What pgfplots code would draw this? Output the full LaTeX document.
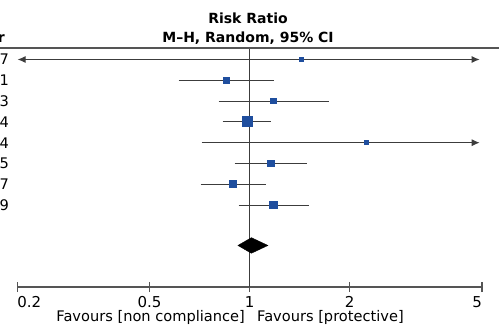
\documentclass[border=0pt]{standalone}
\usepackage{pgfplots}
\pgfplotsset{compat=1.18}
\usepackage{fontspec}
\setmainfont{DejaVu Sans}
\usetikzlibrary{arrows.meta}
\definecolor{sq}{RGB}{31,78,158}
\definecolor{ln}{RGB}{60,60,60}
\definecolor{ax}{RGB}{85,85,85}
\begin{document}
\fontsize{14.6bp}{17bp}\selectfont
\begin{tikzpicture}[x=1bp,y=1bp]
\clip (0,0) rectangle (499,-327);
\begin{axis}[
  at={(17.3bp,-287bp)}, anchor=south west,
  scale only axis, width=464.7bp, height=239bp,
  xmode=log, xmin=0.2, xmax=5,
  ymin=-11.94, ymax=-0.447,
  axis y line=none, axis x line*=bottom,
  axis line style={draw=ax, line width=1.2bp, -},
  xtick={0.2,0.5,1,2,5},
  xticklabels={\makebox[0pt][l]{0.2},0.5,1,2,\makebox[0pt][r]{5}},
  minor xtick={},
  tick align=center, major tick length=10bp,
  tick style={draw=ax, line width=1.2bp},
  xticklabel style={font=\fontsize{15bp}{17bp}\selectfont, inner sep=0pt, yshift=-4bp},
  clip=false,
  ci/.style={draw=ln, line width=1bp},
  pt/.style={only marks, mark=square*, mark options={fill=sq, draw=sq, line width=0pt}},
]
% vertical line of no effect
\addplot[draw=ln, line width=1.2bp] coordinates {(1,-0.447) (1,-11.94)};
% row 1 (2007)
\addplot[ci, {Latex[length=8bp,width=7bp]}-{Latex[length=8bp,width=7bp]}] coordinates {(0.2004,-1) (4.92,-1)};
\addplot[pt, mark size=1.9bp] coordinates {(1.434,-1)};
% row 2 (2011)
\addplot[ci] coordinates {(0.611,-2) (1.181,-2)};
\addplot[pt, mark size=3bp] coordinates {(0.853,-2)};
% row 3 (2013)
\addplot[ci] coordinates {(0.807,-3) (1.729,-3)};
\addplot[pt, mark size=2.9bp] coordinates {(1.18,-3)};
% row 4 (2014)
\addplot[ci] coordinates {(0.829,-4) (1.157,-4)};
\addplot[pt, mark size=5.1bp] coordinates {(0.986,-4)};
% row 5 (2014)
\addplot[ci, -{Latex[length=8bp,width=7bp]}] coordinates {(0.717,-5) (4.92,-5)};
\addplot[pt, mark size=1.8bp] coordinates {(2.249,-5)};
% row 6 (2015)
\addplot[ci] coordinates {(0.901,-6) (1.484,-6)};
\addplot[pt, mark size=3.3bp] coordinates {(1.157,-6)};
% row 7 (2017)
\addplot[ci] coordinates {(0.712,-7) (1.117,-7)};
\addplot[pt, mark size=3.5bp] coordinates {(0.889,-7)};
% row 8 (2019)
\addplot[ci] coordinates {(0.927,-8) (1.505,-8)};
\addplot[pt, mark size=3.6bp] coordinates {(1.18,-8)};
% pooled diamond
\addplot[fill=black, draw=black] coordinates {(0.922,-9.942) (1.012,-9.567) (1.135,-9.942) (1.012,-10.317)} -- cycle;
\end{axis}
% header
\draw[ax, line width=1.5bp] (0,-48) -- (499,-48);
\node[anchor=base, font=\bfseries\fontsize{14bp}{16bp}\selectfont, inner sep=0pt] at (248,-23) {Risk Ratio};
\node[anchor=base, font=\bfseries\fontsize{14bp}{16bp}\selectfont, inner sep=0pt] at (248,-42) {M--H, Random, 95\% CI};
\node[anchor=base east, font=\bfseries\fontsize{14bp}{16bp}\selectfont, inner sep=0pt] at (5,-42) {Year};
% year column (cut off at the left edge)
\foreach \yr/\k in {2007/1,2011/2,2013/3,2014/4,2014/5,2015/6,2017/7,2019/8}{
  \node[anchor=base east, inner sep=0pt] at (9,{-(59.5+(\k-1)*20.8)-5.3}) {\yr};
}
% favours labels
\node[anchor=base east, inner sep=0pt] at (245,-321) {Favours [non compliance]};
\node[anchor=base west, inner sep=0pt] at (257,-321) {Favours [protective]};
\end{tikzpicture}
\end{document}
